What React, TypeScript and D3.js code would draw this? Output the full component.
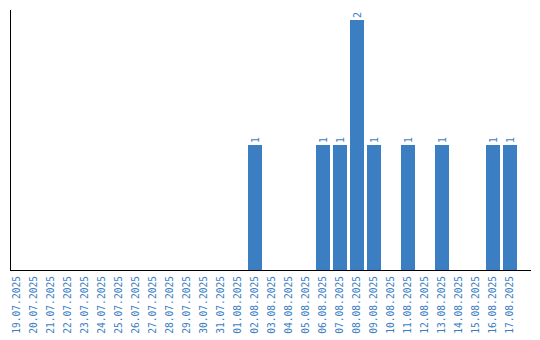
import React from "react";
import * as d3 from "d3";

const dates = [
  "19.07.2025","20.07.2025","21.07.2025","22.07.2025","23.07.2025","24.07.2025",
  "25.07.2025","26.07.2025","27.07.2025","28.07.2025","29.07.2025","30.07.2025",
  "31.07.2025","01.08.2025","02.08.2025","03.08.2025","04.08.2025","05.08.2025",
  "06.08.2025","07.08.2025","08.08.2025","09.08.2025","10.08.2025","11.08.2025",
  "12.08.2025","13.08.2025","14.08.2025","15.08.2025","16.08.2025","17.08.2025",
];
const counts = [
  0,0,0,0,0,0,
  0,0,0,0,0,0,
  0,0,1,0,0,0,
  1,1,2,1,0,1,
  0,1,0,0,1,1,
];

const W = 540, H = 340;
const left = 10, bottom = 270, top = 10, axisRight = 531;
const blue = "#3b7ec2";

export default function App() {
  const x = d3.scaleBand<string>().domain(dates).range([left, left + dates.length * 17]).padding(0);
  const y = d3.scaleLinear().domain([0, 2]).range([bottom, 20]);
  const bw = x.bandwidth() - 3;
  return (
    <svg width={W} height={H} style={{ position: "absolute", left: 0, top: 0 }}
      fontFamily="'DejaVu Sans Mono', monospace">
      {dates.map((d, i) => counts[i] > 0 ? (
        <g key={d}>
          <rect x={x(d)!} y={y(counts[i])} width={bw} height={bottom - y(counts[i])} fill={blue} />
          <text transform={`translate(${x(d)! + bw / 2},${y(counts[i]) - 2}) rotate(-90)`}
            dy="0.35em" fontSize={10} fill={blue} textAnchor="start">{counts[i]}</text>
        </g>
      ) : null)}
      <line x1={left + 0.5} x2={left + 0.5} y1={top} y2={bottom} stroke="#000" />
      <line x1={left} x2={axisRight} y1={bottom + 0.5} y2={bottom + 0.5} stroke="#000" />
      {dates.map((d) => (
        <text key={d} transform={`translate(${x(d)! + bw / 2},${bottom + 6}) rotate(-90)`}
          dy="0.35em" fontSize={9.6} fill={blue} textAnchor="end">{d}</text>
      ))}
    </svg>
  );
}
